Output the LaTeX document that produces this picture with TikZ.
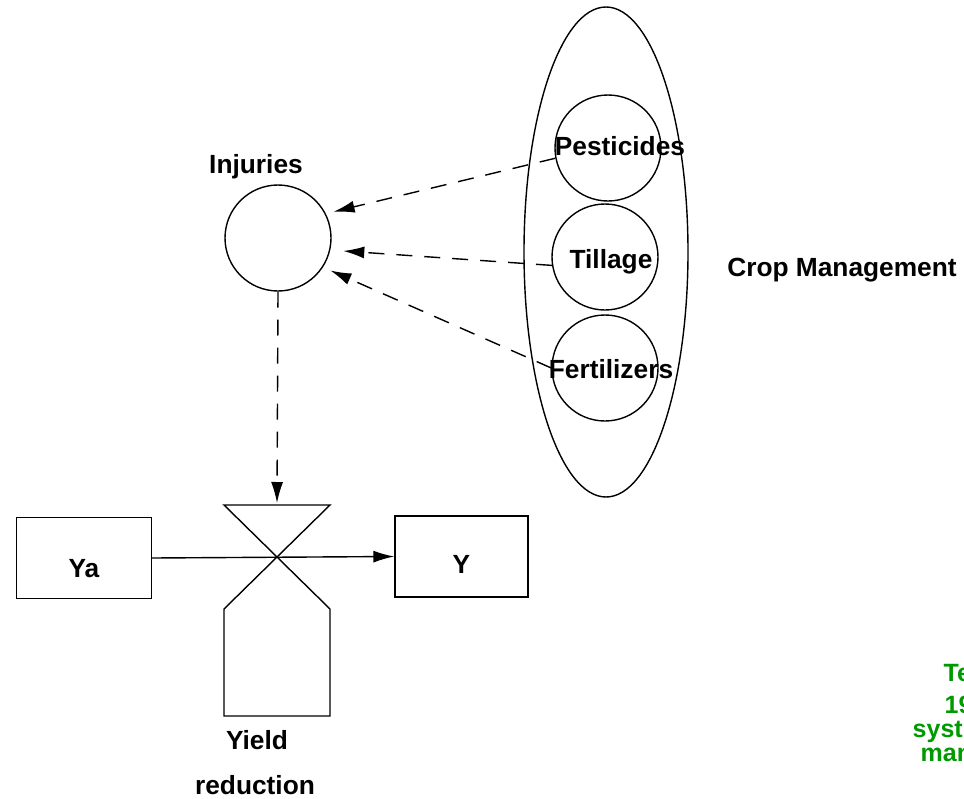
\documentclass[tikz,border=0pt]{standalone}
\usepackage{fontspec}
\setmainfont{Liberation Sans}
\usetikzlibrary{arrows.meta,calc,shapes.geometric}
\definecolor{grn}{RGB}{0,153,0}
\begin{document}
\begin{tikzpicture}[x=1pt,y=-1pt,line width=1.4pt,
  lbl/.style={font=\fontsize{26.3}{30}\selectfont\bfseries,inner sep=0pt,anchor=base},
  glbl/.style={font=\fontsize{25}{28}\selectfont\bfseries,text=grn,inner sep=0pt,anchor=base west},
  circ/.style={draw,circle,minimum size=106pt,inner sep=0pt},
  boxnode/.style={draw,rectangle,minimum width=135pt,minimum height=81pt,inner sep=0pt},
  tip/.style={-{Latex[length=21pt,width=12pt]}},
  dasharrow/.style={tip,dash pattern=on 16pt off 12pt}]
\useasboundingbox (0,0) rectangle (964,798);
\clip (0,0) rectangle (964,798);
% management ellipse and practices
\node[draw,ellipse,minimum width=164pt,minimum height=490pt,inner sep=0pt] (mgmt) at (606,252) {};
\node[circ] (pest) at (608,148) {};
\node[circ] (till) at (605,257) {};
\node[circ] (fert) at (605,368) {};
\node[lbl] (pestl) at (620,155) {Pesticides};
\node[lbl] (tilll) at (611,268) {Tillage};
\node[lbl] (fertl) at (611,378) {Fertilizers};
\node[lbl] (cropl) at (842,276) {Crop Management};
% injuries
\node[circ] (inj) at (278,238) {};
\node[lbl] (injl) at (256,173) {Injuries};
% boxes
\node[boxnode] (ya) at (84,558) {};
\node[lbl] (yal) at (84,577) {Ya};
\node[boxnode,minimum width=133pt] (y) at (461.5,556.5) {};
\node[lbl] (yl) at (461.5,573) {Y};
% valve
\coordinate (vtl) at (224,505);
\coordinate (vtr) at (330,505);
\coordinate (vll) at (224,609);
\coordinate (vlr) at (330,609);
\coordinate (vbl) at (224,716);
\coordinate (vbr) at (330,716);
\coordinate (valvetop) at (277,503);
\draw[line join=miter] (vtl) -- (vtr) -- (vll) -- (vbl) -- (vbr) -- (vlr) -- cycle;
\node[lbl] (yieldl) at (257,749) {Yield};
\node[lbl] (redl) at (255,794) {reduction};
% connectors
\draw[tip] (ya.east) -- (y.west);
\draw[dasharrow,shorten >=8pt] (pest.191) -- (inj.27);
\draw[dasharrow,shorten >=13pt] (till.189) -- (inj.-13);
\draw[dasharrow,shorten >=8pt] (fert.180) -- (inj.-33);
\draw[dasharrow] (inj.south) -- (valvetop);
% green text (cut at the right edge)
\node[glbl] (g1) at (943,681) {Te};
\node[glbl] (g2) at (944,713) {19};
\node[glbl] (g3) at (912,737) {syst};
\node[glbl] (g4) at (920,761) {man};
\end{tikzpicture}
\end{document}
